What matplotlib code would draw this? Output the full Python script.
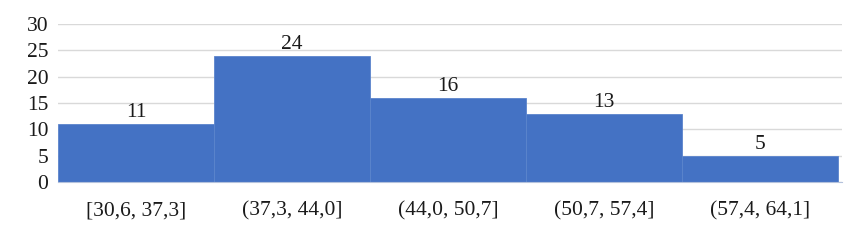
import numpy as np
import matplotlib.pyplot as plt

# histogram bins and counts
bins = ['[30,6, 37,3]', '(37,3, 44,0]', '(44,0, 50,7]', '(50,7, 57,4]', '(57,4, 64,1]']
counts = [11, 24, 16, 13, 5]

plt.rcParams['font.family'] = ['Liberation Serif', 'DejaVu Serif']

fig = plt.figure(figsize=(8.56, 2.47), dpi=100)
ax = fig.add_axes([0.068, 0.263, 0.916, 0.640])

x = np.arange(len(bins))
bars = ax.bar(x, counts, width=1.0, color='#4472C4', edgecolor='#5B84CC', linewidth=0.6, zorder=3)
for xi, c in zip(x, counts):
    ax.text(xi, c + 0.3, str(c), ha='center', va='bottom', fontsize=15.5, color='#1a1a1a')

ax.set_ylim(0, 30)
ax.set_yticks(range(0, 31, 5))
ax.set_xlim(-0.5, 4.53)
ax.set_xticks(x)
ax.set_xticklabels(bins)
ax.tick_params(axis='both', length=0, labelsize=15.5, colors='#1a1a1a')
ax.tick_params(axis='x', pad=14)
ax.tick_params(axis='y', pad=7)
ax.yaxis.grid(True, color='#d9d9d9', linewidth=1, zorder=0)
for s in ['top', 'right', 'left']:
    ax.spines[s].set_visible(False)
ax.spines['bottom'].set_color('#b4c2dc')
ax.spines['bottom'].set_zorder(4)

fig.savefig('out.png', dpi=100)
